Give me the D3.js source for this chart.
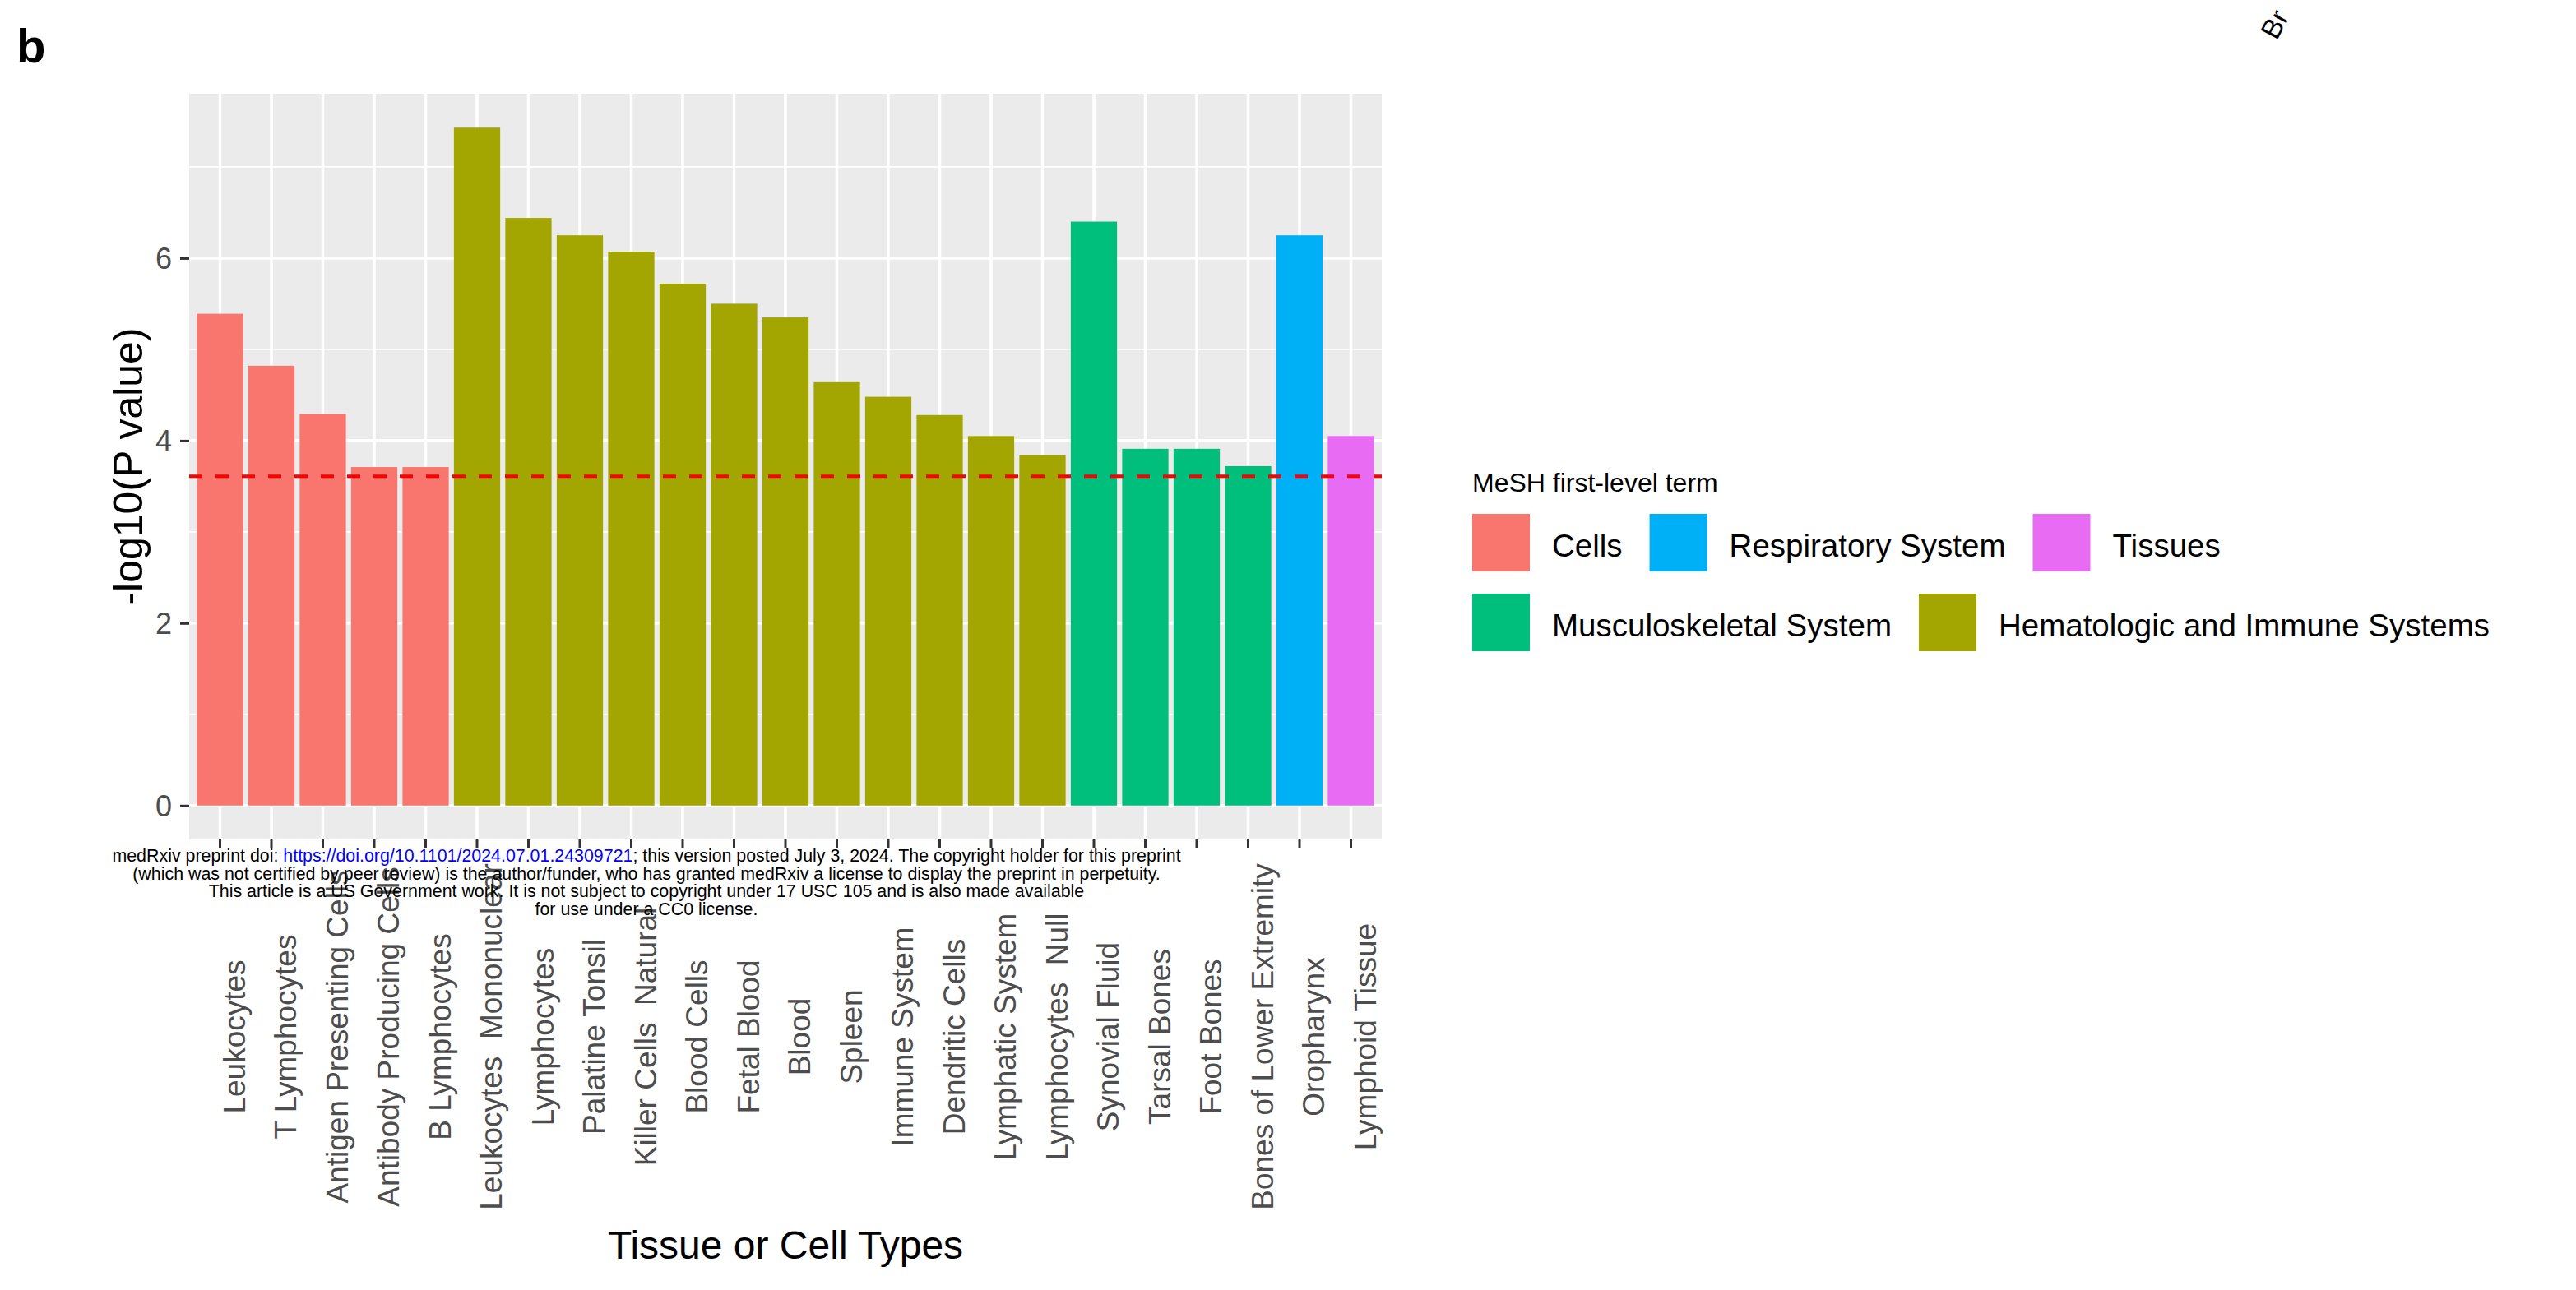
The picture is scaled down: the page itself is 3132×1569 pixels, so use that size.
<!DOCTYPE html>
<html><head><meta charset="utf-8">
<script src="https://cdn.jsdelivr.net/npm/d3@7"></script>
<style>
body{margin:0;background:#fff}
svg{display:block}
text{font-family:"Liberation Sans",Arial,Helvetica,sans-serif}
</style>
</head><body>
<svg id="chart" width="3132" height="1569"></svg>
<script>
// ---- data ----
const categories = [
  "Leukocytes","T Lymphocytes","Antigen Presenting Cells","Antibody Producing Cells","B Lymphocytes",
  "Leukocytes  Mononuclear","Lymphocytes","Palatine Tonsil","Killer Cells  Natural","Blood Cells",
  "Fetal Blood","Blood","Spleen","Immune System","Dendritic Cells","Lymphatic System","Lymphocytes  Null",
  "Synovial Fluid","Tarsal Bones","Foot Bones","Bones of Lower Extremity","Oropharynx","Lymphoid Tissue"
];
const values = [
  5.39, 4.82, 4.29, 3.71, 3.71,
  7.43, 6.44, 6.25, 6.07, 5.72,
  5.50, 5.35, 4.64, 4.48, 4.28, 4.05, 3.84,
  6.40, 3.91, 3.91, 3.72, 6.25, 4.05
];
const groups = [
  "Cells","Cells","Cells","Cells","Cells",
  "Hematologic and Immune Systems","Hematologic and Immune Systems","Hematologic and Immune Systems",
  "Hematologic and Immune Systems","Hematologic and Immune Systems","Hematologic and Immune Systems",
  "Hematologic and Immune Systems","Hematologic and Immune Systems","Hematologic and Immune Systems",
  "Hematologic and Immune Systems","Hematologic and Immune Systems","Hematologic and Immune Systems",
  "Musculoskeletal System","Musculoskeletal System","Musculoskeletal System","Musculoskeletal System",
  "Respiratory System","Tissues"
];
const legendNames = ["Cells","Respiratory System","Tissues","Musculoskeletal System","Hematologic and Immune Systems"];
const legendRows = [[0,1,2],[3,4]];
const groupColors = ["#F8766D","#00B0F6","#E76BF3","#00BF7D","#A3A500"];
const threshold = 3.61;
const yTicks = [0,2,4,6];
const yMinorTicks = [1,3,5,7];
const watermark = [
  ["medRxiv preprint doi: ", "https://doi.org/10.1101/2024.07.01.24309721", "; this version posted July 3, 2024. The copyright holder for this preprint"],
  ["(which was not certified by peer review) is the author/funder, who has granted medRxiv a license to display the preprint in perpetuity."],
  ["This article is a US Government work. It is not subject to copyright under 17 USC 105 and is also made available"],
  ["for use under a CC0 license."]
];

// ---- layout ----
const P = {left:230, right:1680, top:114, bottom:1021};
const svg = d3.select("#chart");
const color = d3.scaleOrdinal().domain(legendNames).range(groupColors);

const x = d3.scaleBand().domain(categories).range([P.left, P.right]).paddingInner(0.1).paddingOuter(0.15);
const vmax = d3.max(values);
const y = d3.scaleLinear().domain([-0.05*vmax, 1.05*vmax]).range([P.bottom, P.top]);

// panel
svg.append("rect").attr("x",P.left).attr("y",P.top).attr("width",P.right-P.left).attr("height",P.bottom-P.top).attr("fill","#EBEBEB");
// minor grid
svg.append("g").selectAll("line").data(yMinorTicks).join("line")
  .attr("x1",P.left).attr("x2",P.right).attr("y1",d=>y(d)).attr("y2",d=>y(d))
  .attr("stroke","#fff").attr("stroke-width",1.8);
// major grid
svg.append("g").selectAll("line").data(yTicks).join("line")
  .attr("x1",P.left).attr("x2",P.right).attr("y1",d=>y(d)).attr("y2",d=>y(d))
  .attr("stroke","#fff").attr("stroke-width",3.5);
svg.append("g").selectAll("line").data(categories).join("line")
  .attr("x1",d=>x(d)+x.bandwidth()/2).attr("x2",d=>x(d)+x.bandwidth()/2)
  .attr("y1",P.top).attr("y2",P.bottom)
  .attr("stroke","#fff").attr("stroke-width",3.5);

// bars
svg.append("g").selectAll("rect").data(categories).join("rect")
  .attr("x",d=>x(d)).attr("width",x.bandwidth())
  .attr("y",(d,i)=>y(values[i])).attr("height",(d,i)=>y(0)-y(values[i]))
  .attr("fill",(d,i)=>color(groups[i]));

// threshold
svg.append("line").attr("x1",P.left).attr("x2",P.right).attr("y1",y(threshold)).attr("y2",y(threshold))
  .attr("stroke","#FF0000").attr("stroke-width",4).attr("stroke-dasharray","16,16");

// y axis
const gy = svg.append("g").attr("transform",`translate(${P.left},0)`)
  .call(d3.axisLeft(y).tickValues(yTicks).tickSize(11).tickPadding(10).tickFormat(d3.format("d")));
gy.select(".domain").remove();
gy.selectAll(".tick line").attr("stroke","#333333").attr("stroke-width",3);
gy.selectAll(".tick text").attr("fill","#4D4D4D").attr("font-size",36).attr("dy","0.36em")
  .style("font-family",'"Liberation Sans",Arial,sans-serif');

// x axis
const gx = svg.append("g").attr("transform",`translate(0,${P.bottom})`)
  .call(d3.axisBottom(x).tickSize(11));
gx.select(".domain").remove();
gx.selectAll(".tick line").attr("stroke","#333333").attr("stroke-width",3);
gx.selectAll(".tick text")
  .attr("x",0).attr("y",0).attr("dy",null)
  .attr("transform","translate(30,240) rotate(-90)")
  .attr("text-anchor","middle")
  .attr("fill","#4D4D4D").attr("font-size",37)
  .style("white-space","pre")
  .style("font-family",'"Liberation Sans",Arial,sans-serif');

// axis titles
svg.append("text").attr("transform",`translate(173,${(P.top+P.bottom)/2}) rotate(-90)`)
  .attr("text-anchor","middle").attr("font-size",50).attr("fill","#000").text("-log10(P value)");
svg.append("text").attr("x",(P.left+P.right)/2).attr("y",1531)
  .attr("text-anchor","middle").attr("font-size",48).attr("fill","#000").text("Tissue or Cell Types");

// panel tag
svg.append("text").attr("x",20).attr("y",76).attr("font-size",58).attr("font-weight","bold").text("b");
// fragment of neighbouring panel label
svg.append("text").attr("transform","translate(2768,50) rotate(-62)").attr("font-size",34).attr("fill","#000").text("Br");

// legend
svg.append("text").attr("x",1790).attr("y",598).attr("font-size",32).attr("fill","#000").text("MeSH first-level term");
const rowKeyY = [625, 722];
const keySize = 70;
legendRows.forEach((row,ri)=>{
  let cx = 1790;
  row.forEach(gi=>{
    const name = legendNames[gi];
    svg.append("rect").attr("x",cx).attr("y",rowKeyY[ri]).attr("width",keySize).attr("height",keySize)
      .attr("fill",color(name));
    const t = svg.append("text").attr("x",cx+97).attr("y",rowKeyY[ri]+keySize/2+17)
      .attr("font-size",38.5).attr("fill","#000").text(name);
    cx = cx + 97 + t.node().getComputedTextLength() + 33;
  });
});

// watermark
const wm = svg.append("g");
const baseY = 1048, lineH = 21.7;
watermark.forEach((parts,li)=>{
  const t = wm.append("text").attr("x",786).attr("y",baseY+li*lineH).attr("text-anchor","middle")
    .attr("font-size",20).attr("fill","#000").style("font-family",'"Liberation Sans",Arial,sans-serif');
  parts.forEach((p,pi)=>{
    t.append("tspan").attr("fill", (li===0 && pi===1) ? "#0000FF" : "#000").text(p);
  });
});
// scale watermark font to measured width of first line
const first = wm.select("text").node().getComputedTextLength();
const fs = 20*1300/first;
wm.selectAll("text").attr("font-size",fs);
</script>
</body></html>
